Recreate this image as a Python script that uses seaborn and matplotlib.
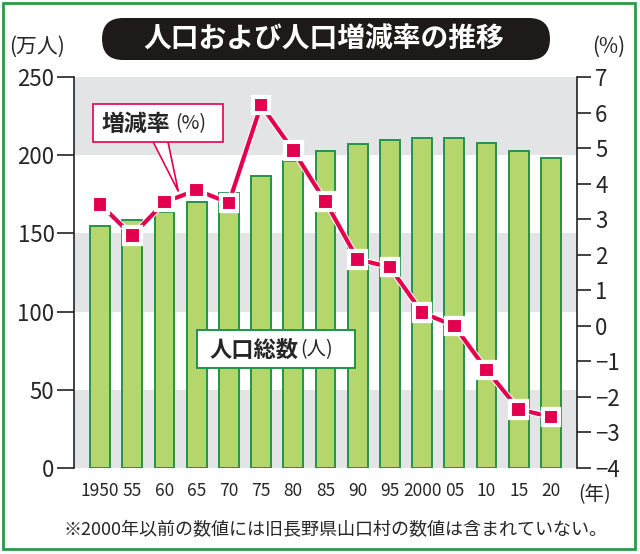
import numpy as np
import pandas as pd
import matplotlib
matplotlib.use("Agg")
from matplotlib import pyplot as plt
from matplotlib.patches import FancyBboxPatch, Rectangle, Polygon
import matplotlib.patheffects as pe
import seaborn as sns

# データ
years = ["1950", "55", "60", "65", "70", "75", "80", "85", "90", "95",
         "2000", "05", "10", "15", "20"]
population = [155, 158.5, 164, 170, 176, 187, 196, 203, 207, 210,
              211, 211, 208, 203, 198]
rate = [3.42, 2.54, 3.48, 3.82, 3.46, 6.21, 4.93, 3.49, 1.87, 1.65,
        0.37, 0.0, -1.24, -2.35, -2.56]
left_ticks = [0, 50, 100, 150, 200, 250]
right_ticks = [-4, -3, -2, -1, 0, 1, 2, 3, 4, 5, 6, 7]

title = "人口および人口増減率の推移"
note = "※2000年以前の数値には旧長野県山口村の数値は含まれていない。"

sns.set_style("white")
plt.rcParams['font.family'] = ['Noto Sans CJK JP', 'DejaVu Sans']
plt.rcParams['axes.unicode_minus'] = True

df = pd.DataFrame({"year": years, "pop": population, "rate": rate})

BAR = '#b5d66c'
BAR_EDGE = '#23924a'
RED = '#e2004f'
GREY = '#e3e4e6'
FRAME = '#2c9a48'

W, H = 640, 554


def fx(x):
    return x / W


def fy(y):
    return 1 - y / H


fig = plt.figure(figsize=(6.4, 5.54), dpi=100)
ax = fig.add_axes([fx(74), fy(468), 503 / W, 391 / H])

# 背景の帯
for lo in (0, 100, 200):
    ax.axhspan(lo, lo + 50, color=GREY, zorder=0, lw=0)

sns.barplot(data=df, x="year", y="pop", ax=ax, color=BAR, width=0.62,
            edgecolor=BAR_EDGE, linewidth=1.4, saturation=1, zorder=2)
ax.set_xlim(-0.81, 14.81)
ax.set_ylim(0, 250)
ax.set_yticks(left_ticks)
ax.set_yticklabels([str(t) for t in left_ticks], fontsize=16)
ax.set_xlabel("")
ax.set_ylabel("")
ax.set_xticks(range(len(years)))
ax.set_xticklabels(years, fontsize=12.5)
ax.tick_params(axis='x', length=0, pad=10)
ax.tick_params(axis='y', direction='out', length=12, width=1.2, color='#222222', pad=2)
for s in ('top', 'bottom', 'right'):
    ax.spines[s].set_visible(False)
ax.spines['left'].set_color('#222222')
ax.spines['left'].set_linewidth(1.2)
ax.patch.set_alpha(0)

ax2 = ax.twinx()
sns.lineplot(data=df, x="year", y="rate", ax=ax2, color=RED, linewidth=3,
             marker='s', markersize=10.5, markeredgecolor='white',
             markeredgewidth=1.5, markerfacecolor=RED, zorder=5,
             path_effects=[pe.Stroke(linewidth=4.5, foreground='white'), pe.Normal()])
ax2.set_xlim(-0.81, 14.81)
ax2.set_ylim(-4, 7)
ax2.set_yticks(right_ticks)
ax2.set_yticklabels([str(t).replace('-', '\u2212') for t in right_ticks], fontsize=16)
ax2.set_ylabel("")
ax2.set_xlabel("")
ax2.tick_params(axis='y', direction='out', length=10, width=1.2, color='#222222', pad=3)
for s in ('top', 'bottom', 'left'):
    ax2.spines[s].set_visible(False)
ax2.spines['right'].set_color('#222222')
ax2.spines['right'].set_linewidth(1.2)

# 吹き出し：増減率
wedge = Polygon([(1.65, 5.17), (2.43, 3.78), (2.11, 5.17)], closed=False,
                facecolor='white', edgecolor=RED, lw=1.2, zorder=6)
ax2.add_patch(wedge)
box1 = Rectangle((fx(93), fy(142)), 130 / W, 38 / H,
                 transform=fig.transFigure, facecolor='white', edgecolor=RED,
                 lw=1.2, zorder=7)
ax2.add_patch(box1)
fig.text(fx(102), fy(124), "増減率", fontsize=16.5, fontweight='bold',
         va='center', ha='left', zorder=8)
fig.text(fx(175), fy(124), "(%)", fontsize=14, va='center', ha='left', zorder=8)

# 吹き出し：人口総数
box2 = Rectangle((fx(197), fy(368)), 158 / W, 38 / H,
                 transform=fig.transFigure, facecolor='white', edgecolor=BAR_EDGE,
                 lw=1.4, zorder=7)
ax2.add_patch(box2)
fig.text(fx(209), fy(350), "人口総数", fontsize=16, fontweight='bold',
         va='center', ha='left', zorder=8)
fig.text(fx(300), fy(350), "(人)", fontsize=14, va='center', ha='left', zorder=8)

# タイトル
pill = FancyBboxPatch((fx(102), fy(60)), 448 / W, 42 / H,
                      boxstyle="round,pad=0,rounding_size=0.033",
                      transform=fig.transFigure, facecolor='#1e1a1a',
                      edgecolor='none', mutation_aspect=W / H)
fig.patches.append(pill)
fig.text(fx(324), fy(40), title, color='white', fontsize=20,
         fontweight='bold', ha='center', va='center')

fig.text(fx(9), fy(47), "(万人)", fontsize=15, ha='left', va='center')
fig.text(fx(625), fy(47), "(%)", fontsize=15, ha='right', va='center')
fig.text(fx(578), fy(495), "(年)", fontsize=14, ha='left', va='center')
fig.text(fx(64), fy(530), note, fontsize=13, ha='left', va='center')

# 外枠
frame = Rectangle((fx(3), fy(549)), 632 / W, 546 / H,
                  transform=fig.transFigure, fill=False, edgecolor=FRAME, lw=2)
fig.patches.append(frame)

fig.savefig("out.png", dpi=100)
